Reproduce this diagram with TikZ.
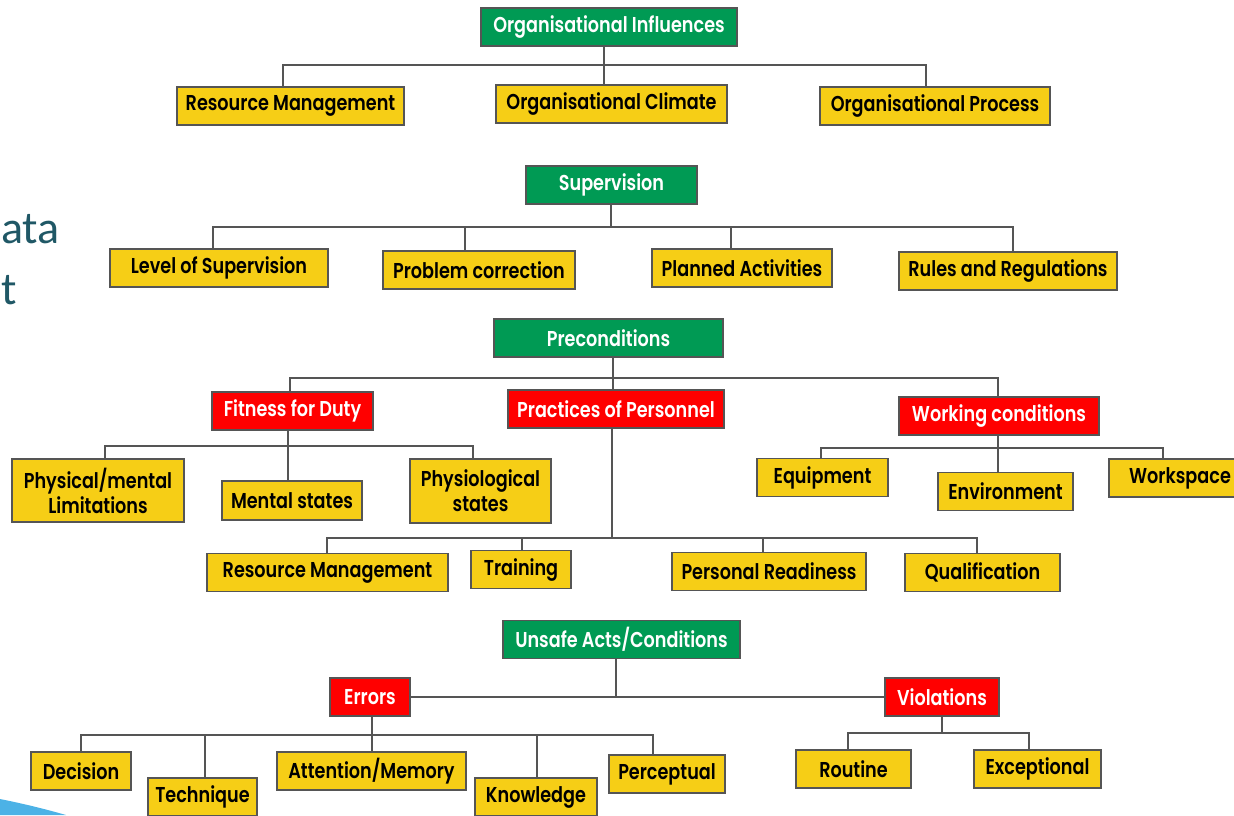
\documentclass[tikz,border=0pt]{standalone}
\usepackage{fontspec}
\setmainfont{Poppins}[UprightFont=* SemiBold,FakeStretch=0.82]
\newfontfamily\slidefont{Carlito}
\usetikzlibrary{positioning,calc}
\definecolor{hgreen}{RGB}{0,154,84}
\definecolor{hred}{RGB}{255,0,0}
\definecolor{hyellow}{RGB}{246,206,22}
\definecolor{hedge}{RGB}{85,85,85}
\definecolor{slideteal}{RGB}{32,88,102}
\definecolor{swoosh}{RGB}{76,178,230}
\tikzset{
	box/.style={draw=hedge,line width=1.8pt,minimum height=38pt,inner sep=0pt,align=center,font=\fontsize{21.5}{25}\selectfont},
	topbox/.style={box,fill=hgreen,text=white},
	midbox/.style={box,fill=hred,text=white},
	leafbox/.style={box,fill=hyellow,text=black},
	link/.style={draw=hedge,line width=1.8pt},
}
\begin{document}
\begin{tikzpicture}[x=1pt,y=-1pt]
	\useasboundingbox (0,0) rectangle (1234,815);
	% slide leftovers
	\node[text=slideteal,font=\slidefont\fontsize{46}{46}\selectfont,anchor=base west,inner sep=0pt] (slideA) at (1,243) {ata};
	\node[text=slideteal,font=\slidefont\fontsize{46}{46}\selectfont,anchor=base west,inner sep=0pt] (slideB) at (1,304) {t};
	\fill[swoosh] (0,799) .. controls (25,804) and (45,809) .. (66,815) -- (0,815) -- cycle;
	
	% organisational influences
	\node[topbox,minimum width=256pt] (oi) at (609,27) {Organisational Influences};
	\node[leafbox,minimum width=227pt] (rm1) at (290.5,106) {Resource Management};
	\node[leafbox,minimum width=231pt] (oc) at (611.5,104) {Organisational Climate};
	\node[leafbox,minimum width=230pt] (op) at (935,106) {Organisational Process};
	\coordinate (oiL) at (283,65);
	\coordinate (oiM) at (604,65);
	\coordinate (oiR) at (926,65);
	\draw[link] (oi.south -| oiM) -- (oc.north -| oiM);
	\draw[link] (oiL |- rm1.north) -- (oiL) -- (oiR) -- (oiR |- op.north);
	
	% supervision
	\node[topbox,minimum width=171pt] (sup) at (611.5,185) {Supervision};
	\node[leafbox,minimum width=218pt] (los) at (219,268) {Level of Supervision};
	\node[leafbox,minimum width=192pt] (pc) at (479,270) {Problem correction};
	\node[leafbox,minimum width=180pt] (pa) at (742,268) {Planned Activities};
	\node[leafbox,minimum width=218pt] (rr) at (1008,271) {Rules and Regulations};
	\coordinate (supL) at (213,227);
	\coordinate (supB) at (465,227);
	\coordinate (supM) at (611,227);
	\coordinate (supC) at (731,227);
	\coordinate (supR) at (1013,227);
	\draw[link] (sup.south -| supM) -- (supM);
	\draw[link] (supL |- los.north) -- (supL) -- (supR) -- (supR |- rr.north);
	\draw[link] (supB) -- (supB |- pc.north);
	\draw[link] (supC) -- (supC |- pa.north);
	
	% preconditions
	\node[topbox,minimum width=229pt] (pre) at (608.5,338) {Preconditions};
	\node[midbox,minimum width=161pt] (ffd) at (292.5,411) {Fitness for Duty};
	\node[midbox,minimum width=216pt] (pop) at (616,409) {Practices of Personnel};
	\node[midbox,minimum width=200pt] (wc) at (999,416) {Working conditions};
	\coordinate (preL) at (290,378);
	\coordinate (preM) at (613,378);
	\coordinate (preR) at (998,378);
	\draw[link] (pre.south -| preM) -- (pop.north -| preM);
	\draw[link] (preL |- ffd.north) -- (preL) -- (preR) -- (preR |- wc.north);
	
	\node[leafbox,minimum width=172pt,minimum height=63pt] (pml) at (98,490.5) {Physical/mental\\Limitations};
	\node[leafbox,minimum width=140pt,minimum height=39pt] (ms) at (292,500.5) {Mental states};
	\node[leafbox,minimum width=141pt,minimum height=64pt] (phy) at (480.5,491) {Physiological\\states};
	\coordinate (ffdL) at (105,446);
	\coordinate (ffdM) at (288,446);
	\coordinate (ffdR) at (473,446);
	\draw[link] (ffd.south -| ffdM) -- (ms.north -| ffdM);
	\draw[link] (ffdL |- pml.north) -- (ffdL) -- (ffdR) -- (ffdR |- phy.north);
	
	\node[leafbox,minimum width=131pt] (eq) at (822.5,477.5) {Equipment};
	\node[leafbox,minimum width=135pt] (env) at (1005.5,491.5) {Environment};
	\node[leafbox,minimum width=142pt] (ws) at (1180,478) {Workspace};
	\coordinate (wcL) at (821,448);
	\coordinate (wcM) at (998,448);
	\coordinate (wcR) at (1163,448);
	\draw[link] (wc.south -| wcM) -- (env.north -| wcM);
	\draw[link] (wcL |- eq.north) -- (wcL) -- (wcR) -- (wcR |- ws.north);
	
	\node[leafbox,minimum width=241pt] (rm2) at (327.5,572.5) {Resource Management};
	\node[leafbox,minimum width=100pt] (tr) at (521,569.5) {Training};
	\node[leafbox,minimum width=194pt] (prd) at (769,571.5) {Personal Readiness};
	\node[leafbox,minimum width=155pt] (qu) at (982.5,572.5) {Qualification};
	\coordinate (popL) at (327,538);
	\coordinate (popB) at (522,538);
	\coordinate (popM) at (612,538);
	\coordinate (popC) at (763,538);
	\coordinate (popR) at (977,538);
	\draw[link] (pop.south -| popM) -- (popM);
	\draw[link] (popL |- rm2.north) -- (popL) -- (popR) -- (popR |- qu.north);
	\draw[link] (popB) -- (popB |- tr.north);
	\draw[link] (popC) -- (popC |- prd.north);
	
	% unsafe acts
	\node[topbox,minimum width=237pt] (ua) at (621.5,639.5) {Unsafe Acts/Conditions};
	\node[midbox,minimum width=80pt] (err) at (370,697) {Errors};
	\node[midbox,minimum width=114pt] (vio) at (942,697) {Violations};
	\coordinate (uaM) at (616,697);
	\draw[link] (ua.south -| uaM) -- (uaM);
	\draw[link] (err.east) -- (vio.west);
	
	\node[leafbox,minimum width=100pt] (dec) at (81,771) {Decision};
	\node[leafbox,minimum width=109pt] (tec) at (202.5,797) {Technique};
	\node[leafbox,minimum width=189pt] (am) at (371.5,771) {Attention/Memory};
	\node[leafbox,minimum width=122pt] (kn) at (536,797) {Knowledge};
	\node[leafbox,minimum width=116pt] (per) at (667,774) {Perceptual};
	\coordinate (errL) at (81,735);
	\coordinate (errB) at (205,735);
	\coordinate (errM) at (372,735);
	\coordinate (errC) at (537,735);
	\coordinate (errR) at (653,735);
	\draw[link] (err.south -| errM) -- (am.north -| errM);
	\draw[link] (errL |- dec.north) -- (errL) -- (errR) -- (errR |- per.north);
	\draw[link] (errB) -- (errB |- tec.north);
	\draw[link] (errC) -- (errC |- kn.north);
	
	\node[leafbox,minimum width=115pt] (rou) at (853.5,769) {Routine};
	\node[leafbox,minimum width=127pt] (exc) at (1037.5,769) {Exceptional};
	\coordinate (vioL) at (848,733);
	\coordinate (vioM) at (942,733);
	\coordinate (vioR) at (1029,733);
	\draw[link] (vio.south) -- (vioM);
	\draw[link] (vioL |- rou.north) -- (vioL) -- (vioR) -- (vioR |- exc.north);
\end{tikzpicture}
\end{document}
